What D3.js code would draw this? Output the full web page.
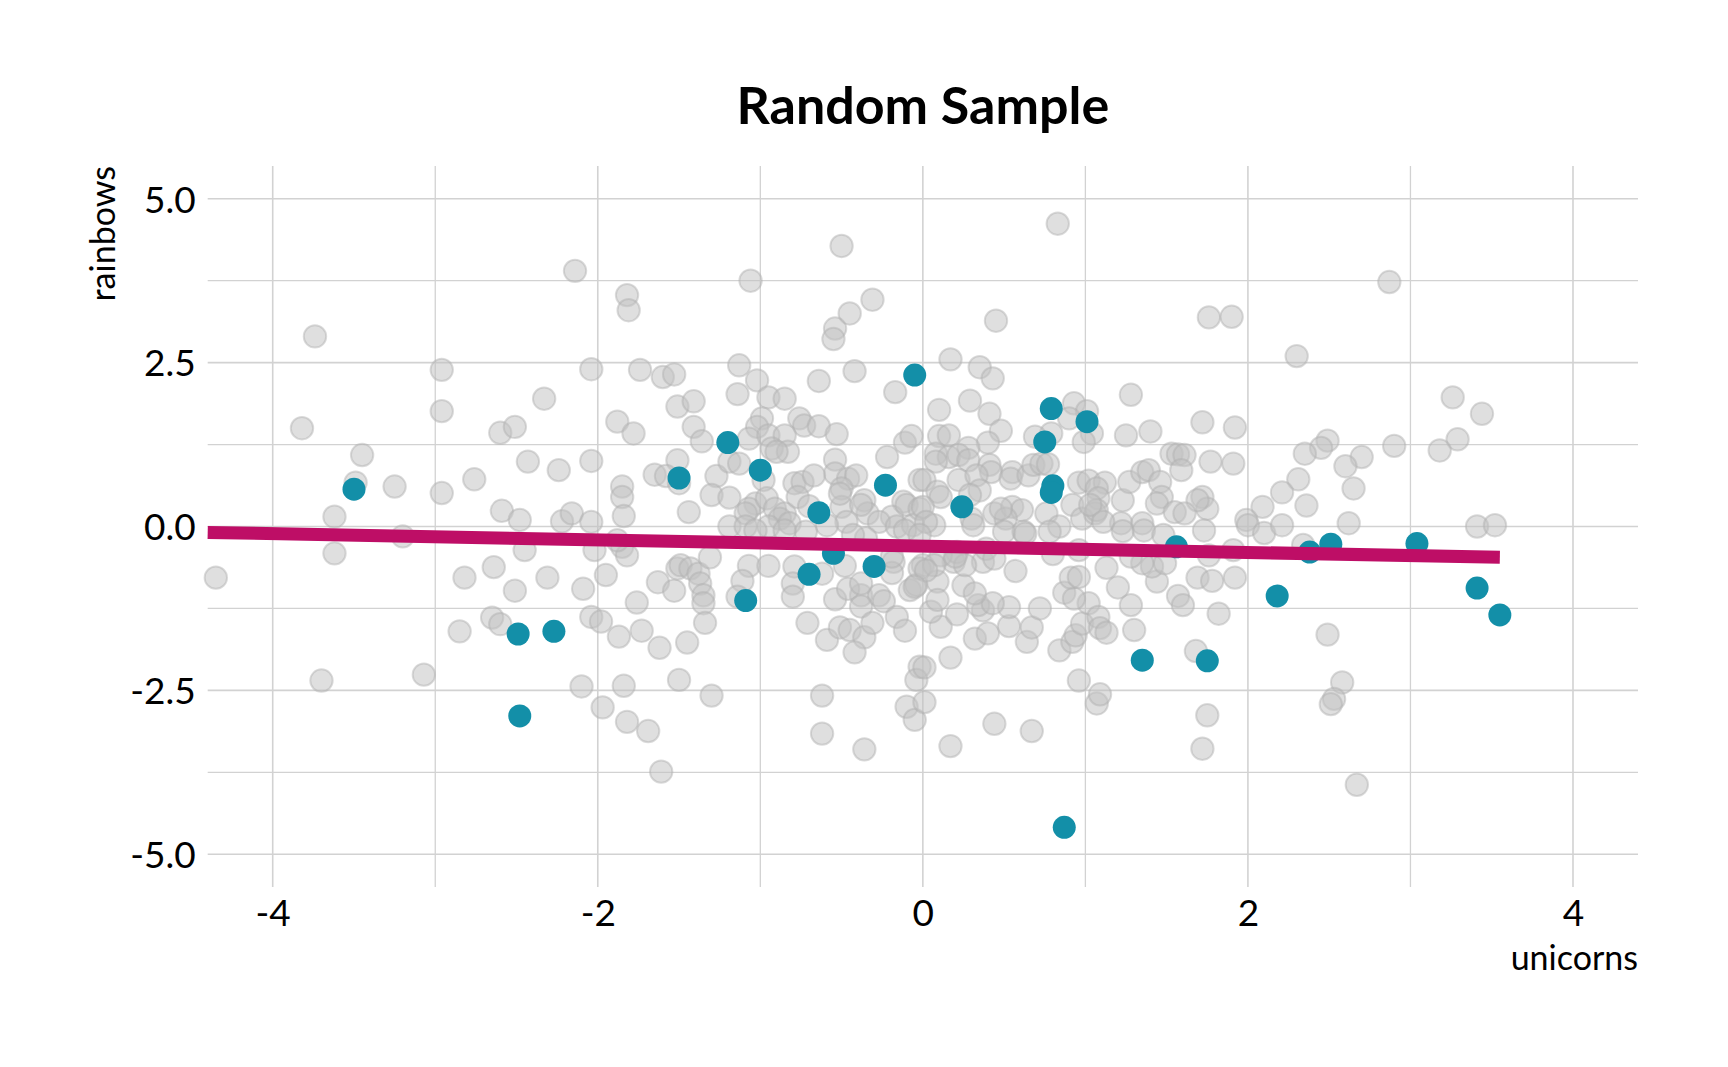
<!DOCTYPE html>
<html><head><meta charset="utf-8">
<script src="https://cdn.jsdelivr.net/npm/d3@7"></script>
<style>
html,body{margin:0;padding:0;background:#fff;}
svg{display:block;}
text{font-family:Lato,"Open Sans",sans-serif;fill:#000;}
</style></head>
<body>
<svg id="chart" width="1728" height="1067"></svg>
<script>
// ---- data ----
const titleText = "Random Sample";
const xLabel = "unicorns";
const yLabel = "rainbows";
const xDomain = [-4.4, 4.4];
const yDomain = [-5.5, 5.5];
const xMajorTicks = [-4, -2, 0, 2, 4];
const xTickLabels = ["-4", "-2", "0", "2", "4"];
const xMinorTicks = [-3, -1, 1, 3];
const yMajorTicks = [-5, -2.5, 0, 2.5, 5];
const yMinorTicks = [-3.75, -1.25, 1.25, 3.75];
const yTickLabels = ["-5.0", "-2.5", "0.0", "2.5", "5.0"];

const grayX = [
-3.74,-2.96,-2.33,-2.96,-3.82,-2.60,-2.51,-3.45,-2.43,-2.24,-3.49,-3.25,-2.96,-2.76,-2.59,-2.48,-3.62,-3.20,-2.22,
-2.14,-1.06,-0.50,-1.82,-1.81,-0.31,-0.45,-0.54,-0.55,-2.04,-1.74,-1.60,-1.53,-1.13,-1.02,-0.42,-0.64,-0.17,-1.14,-0.95,
-0.85,-1.51,-1.41,-1.88,-1.78,-1.41,-1.36,-0.99,-1.02,-0.76,-0.73,-0.64,-0.53,-1.07,-0.95,-0.85,-0.93,-0.83,-0.90,-0.11,
-0.07,-0.22,-2.04,-1.51,-1.65,-1.58,-1.50,-1.27,-1.19,-1.13,-0.98,-0.54,-0.54,-0.46,-0.41,-0.79,-0.74,-0.67,-0.50,-0.36,
-0.12,-1.85,-1.85,-1.84,-1.30,-1.19,-1.03,-1.07,-0.96,-0.91,-0.85,-0.77,-0.70,-1.44,-2.16,-2.04,-0.34,-0.50,-0.19,-0.02,
-1.09,-0.88,-0.95,-1.19,-1.09,-0.82,-0.51,-0.38,-0.47,-0.59,-0.72,-0.27,-0.10,-0.16,-0.06,-0.02,-0.38,-0.18,-0.27,0.00,
-0.35,-0.43,-1.03,-0.85,-0.11,
-2.02,-2.09,-1.95,-1.85,-1.82,-1.88,-2.04,-1.98,-1.87,-1.73,-1.62,-1.76,-1.63,-1.53,-1.51,-1.49,-1.43,-1.38,-1.37,-1.35,
-1.35,-1.34,-1.45,-1.31,-2.10,-1.84,-1.97,-1.82,-1.69,-1.61,-1.50,-1.30,-1.07,-1.11,-1.14,-0.95,-0.79,-0.80,-0.80,-0.62,
-0.48,-0.71,-0.59,-0.54,-0.51,-0.46,-0.45,-0.38,-0.38,-0.36,-0.42,-0.31,-0.24,-0.19,-0.19,-0.16,-0.11,-0.08,-0.04,-0.02,
-0.02,-0.04,-0.10,-0.05,-0.62,-0.62,-0.36,
-4.35,-3.62,-3.70,-3.07,-2.82,-2.64,-2.51,-2.45,-2.31,-2.85,-2.65,-2.60,
0.83,0.45,1.76,1.90,0.17,0.35,0.43,1.28,0.10,0.29,0.41,0.48,0.93,1.01,1.04,0.99,0.90,0.79,0.69,1.25,1.40,1.72,1.92,0.10,
0.16,0.40,0.28,0.08,0.16,0.22,0.28,0.08,0.41,0.42,0.55,0.54,0.65,0.68,0.73,0.77,0.01,0.22,0.33,0.35,0.09,0.11,0.96,1.02,
1.12,1.07,1.08,0.92,0.76,1.23,1.27,1.35,1.39,1.46,1.47,1.44,1.53,1.57,1.61,1.59,1.77,1.91,1.72,1.75,1.69,1.55,1.61,2.09,
1.99,0.44,0.55,0.61,0.51,0.30,0.00,0.98,1.06,1.22,1.35,
0.29,0.07,0.02,-0.02,0.31,0.48,0.50,0.62,0.84,0.78,1.07,1.03,1.11,1.23,1.36,1.48,0.80,0.37,0.19,0.09,0.39,0.21,0.11,0.07,
1.68,1.75,1.72,1.07,1.09,0.96,0.44,0.67,0.17,0.17,0.01,0.01,0.11,0.32,0.40,0.53,0.64,0.67,0.72,0.53,0.37,0.34,0.43,0.21,
0.05,0.09,0.25,0.32,0.84,0.92,0.94,0.98,1.02,1.08,1.09,1.13,1.30,1.28,1.20,1.13,0.87,0.93,0.91,0.96,0.57,0.44,0.26,0.20,
0.02,-0.05,1.44,1.41,1.35,1.49,1.57,1.60,1.82,1.69,1.78,1.92,1.76,1.91,1.28,1.73,2.00,2.10,0.96,0.63,
2.87,2.30,3.26,3.44,3.29,3.18,2.90,2.49,2.45,2.35,2.70,2.60,2.31,2.21,2.65,2.36,2.21,2.62,3.41,3.52,
2.34,2.49,2.58,2.53,2.51,2.67
];
const grayY = [
2.90,2.39,1.95,1.76,1.50,1.43,1.52,1.09,0.99,0.86,0.67,0.61,0.51,0.72,0.24,0.10,0.15,-0.15,0.08,
3.90,3.75,4.28,3.53,3.30,3.46,3.25,3.02,2.86,2.40,2.39,2.28,2.32,2.46,2.23,2.37,2.22,2.05,2.02,1.97,
1.95,1.83,1.91,1.60,1.42,1.52,1.30,1.65,1.52,1.65,1.54,1.53,1.41,1.34,1.39,1.39,1.19,1.14,1.14,1.28,
1.38,1.06,1.00,1.01,0.79,0.77,0.66,0.77,0.99,0.96,0.71,1.02,0.81,0.73,0.78,0.66,0.68,0.78,0.58,0.40,
0.38,0.61,0.45,0.16,0.48,0.44,0.35,0.27,0.43,0.27,0.20,0.45,0.31,0.22,0.20,0.07,0.20,0.30,0.15,0.71,
0.20,0.12,0.00,0.00,0.00,0.05,0.50,0.33,0.07,0.02,-0.08,0.07,0.33,0.00,0.02,0.27,-1.05,-0.54,-1.05,-0.59,
-0.18,-0.13,-0.06,-0.06,-0.06,
-0.36,-0.95,-0.74,-0.31,-0.44,-0.21,-1.38,-1.45,-1.68,-1.59,-1.85,-1.16,-0.85,-0.98,-0.64,-0.59,-0.64,-0.72,-0.87,-1.05,
-1.17,-1.47,-1.77,-0.47,-2.44,-2.43,-2.76,-2.98,-3.12,-3.74,-2.34,-2.58,-0.60,-0.83,-1.07,-0.60,-0.61,-0.87,-1.07,-0.72,
-0.60,-1.47,-1.73,-1.11,-1.54,-0.95,-1.58,-1.22,-0.87,-1.69,-1.92,-1.47,-1.14,-0.71,-0.46,-1.38,-1.59,-0.97,-0.89,-0.64,
-2.14,-2.34,-2.75,-2.95,-2.58,-3.16,-3.40,
-0.78,-0.41,-2.35,-2.26,-0.78,-0.62,-0.98,-0.36,-0.78,-1.60,-1.39,-1.49,
4.62,3.14,3.19,3.20,2.55,2.43,2.26,2.01,1.78,1.92,1.72,1.46,1.88,1.76,1.42,1.29,1.65,1.42,1.37,1.39,1.45,1.59,1.51,1.38,
1.39,1.28,1.20,1.11,1.06,1.09,1.01,0.99,0.94,0.83,0.83,0.73,0.78,0.94,0.96,0.95,0.71,0.71,0.78,0.55,0.53,0.45,0.67,0.70,
0.67,0.58,0.43,0.33,0.20,0.40,0.68,0.83,0.86,0.68,0.45,0.35,1.11,1.10,1.09,0.86,0.99,0.96,0.45,0.27,0.40,0.22,0.20,0.30,
0.10,0.20,0.30,0.25,0.12,0.12,0.30,0.12,0.20,0.05,0.05,
0.48,0.02,0.07,-0.13,0.02,0.27,-0.08,-0.08,0.00,-0.08,0.25,0.33,0.07,-0.07,-0.06,-0.13,-0.42,-0.54,-0.54,-0.84,-0.34,-0.39,-0.44,-0.59,
-1.90,-2.88,-3.39,-2.70,-2.56,-2.35,-3.01,-3.12,-3.35,-2.00,-2.15,-2.68,-1.53,-1.71,-1.63,-1.52,-1.76,-1.54,-1.25,-1.23,-1.28,-1.20,-1.17,-1.34,
-1.30,-1.12,-0.90,-1.02,-1.89,-1.76,-1.66,-1.48,-1.17,-1.38,-1.55,-1.62,-1.58,-1.20,-0.93,-0.63,-1.01,-1.10,-0.78,-0.77,-0.68,-0.49,-0.59,-0.46,
-0.67,-0.92,-0.84,-0.61,-0.56,-0.56,-1.06,-1.20,-1.33,-0.78,-0.83,-0.78,-0.44,-0.36,-0.46,-0.06,0.02,-0.10,-0.36,-0.11,
3.73,2.60,1.97,1.72,1.33,1.16,1.23,1.31,1.20,1.11,1.06,0.92,0.72,0.52,0.58,0.32,0.02,0.05,0.00,0.02,
-0.28,-1.65,-2.38,-2.63,-2.71,-3.94
];

const sampleX = [-3.50,-2.49,-2.27,-2.48,-1.50,-1.20,-1.00,-1.09,-0.64,-0.70,-0.55,-0.30,-0.23,-0.05,0.24,
  0.75,0.79,1.01,0.80,0.79,0.87,1.35,1.56,1.75,2.18,2.38,2.51,3.04,3.41,3.55];
const sampleY = [0.57,-1.64,-1.60,-2.89,0.74,1.28,0.86,-1.13,0.21,-0.73,-0.41,-0.61,0.63,2.31,0.30,
  1.29,1.80,1.60,0.62,0.52,-4.59,-2.04,-0.31,-2.05,-1.06,-0.39,-0.27,-0.26,-0.94,-1.35];

const trendX = [-4.4, 3.55];
const trendY = [-0.09, -0.47];

// ---- layout ----
const plot = {left: 207.7, right: 1638, top: 166, bottom: 887};
const svg = d3.select("#chart");

const x = d3.scaleLinear().domain(xDomain).range([plot.left, plot.right]);
const y = d3.scaleLinear().domain(yDomain).range([plot.bottom, plot.top]);

const gridColor = "#d2d2d2";
const grid = svg.append("g");
grid.selectAll("line.vmin").data(xMinorTicks).join("line")
  .attr("x1", d => x(d)).attr("x2", d => x(d)).attr("y1", plot.top).attr("y2", plot.bottom)
  .attr("stroke", gridColor).attr("stroke-width", 1.3);
grid.selectAll("line.hmin").data(yMinorTicks).join("line")
  .attr("y1", d => y(d)).attr("y2", d => y(d)).attr("x1", plot.left).attr("x2", plot.right)
  .attr("stroke", gridColor).attr("stroke-width", 1.3);
grid.selectAll("line.vmaj").data(xMajorTicks).join("line")
  .attr("x1", d => x(d)).attr("x2", d => x(d)).attr("y1", plot.top).attr("y2", plot.bottom)
  .attr("stroke", gridColor).attr("stroke-width", 1.6);
grid.selectAll("line.hmaj").data(yMajorTicks).join("line")
  .attr("y1", d => y(d)).attr("y2", d => y(d)).attr("x1", plot.left).attr("x2", plot.right)
  .attr("stroke", gridColor).attr("stroke-width", 1.6);

// axes labels via d3 axis generators (lines hidden)
const xAxis = svg.append("g").attr("transform", `translate(0,${plot.bottom})`)
  .call(d3.axisBottom(x).tickValues(xMajorTicks).tickSize(0).tickPadding(0)
    .tickFormat((d, i) => xTickLabels[i]));
xAxis.select(".domain").remove();
xAxis.selectAll("text").attr("font-family", "Lato").attr("font-size", 37).attr("fill", "#000")
  .attr("dy", null).attr("y", 39);

const yAxis = svg.append("g").attr("transform", `translate(${plot.left},0)`)
  .call(d3.axisLeft(y).tickValues(yMajorTicks).tickSize(0).tickPadding(0)
    .tickFormat((d, i) => yTickLabels[i]));
yAxis.select(".domain").remove();
yAxis.selectAll("text").attr("font-family", "Lato").attr("font-size", 37).attr("fill", "#000")
  .attr("x", -12).attr("dy", "0.36em");

// points
const gray = grayX.map((d, i) => [d, grayY[i]]);
svg.append("g").selectAll("circle").data(gray).join("circle")
  .attr("cx", d => x(d[0])).attr("cy", d => y(d[1])).attr("r", 11.2)
  .attr("fill", "#c2c2c2").attr("fill-opacity", 0.52)
  .attr("stroke", "#b0b0b0").attr("stroke-opacity", 0.45).attr("stroke-width", 2);

const sample = sampleX.map((d, i) => [d, sampleY[i]]);
svg.append("g").selectAll("circle").data(sample).join("circle")
  .attr("cx", d => x(d[0])).attr("cy", d => y(d[1])).attr("r", 11.5)
  .attr("fill", "#138FA8");

// trend line
const trend = trendX.map((d, i) => [d, trendY[i]]);
svg.append("path").datum(trend)
  .attr("d", d3.line().x(d => x(d[0])).y(d => y(d[1])))
  .attr("stroke", "#BE0E66").attr("stroke-width", 13).attr("fill", "none");

// titles
svg.append("text").attr("x", (plot.left + plot.right) / 2).attr("y", 124)
  .attr("text-anchor", "middle").attr("font-weight", 700).attr("font-size", 52).text(titleText);
svg.append("text").attr("x", plot.right).attr("y", 970)
  .attr("text-anchor", "end").attr("font-size", 34).text(xLabel);
svg.append("text").attr("transform", `translate(115,${plot.top}) rotate(-90)`)
  .attr("text-anchor", "end").attr("font-size", 34).text(yLabel);
</script>
</body></html>
